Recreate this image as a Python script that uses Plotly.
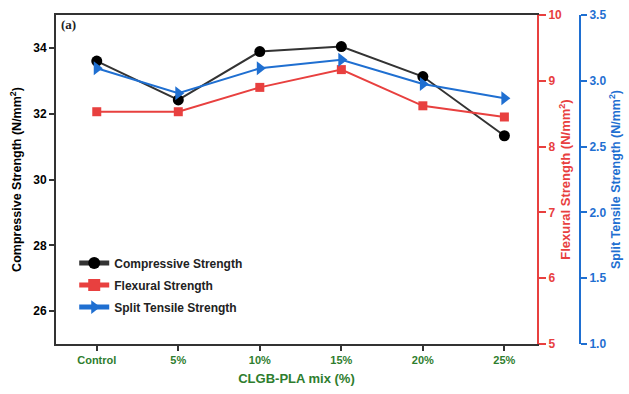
import plotly.graph_objects as go

categories = ["Control", "5%", "10%", "15%", "20%", "25%"]
compressive = [33.6, 32.42, 33.89, 34.04, 33.13, 31.33]
flexural = [8.53, 8.53, 8.90, 9.17, 8.62, 8.45]
split_tensile = [3.095, 2.905, 3.095, 3.16, 2.976, 2.867]

left_ticks = [26, 28, 30, 32, 34]
red_ticks = [5, 6, 7, 8, 9, 10]
blue_ticks = [1.0, 1.5, 2.0, 2.5, 3.0, 3.5]

FONT = "Arial, Liberation Sans, sans-serif"
BLACK = "#000000"
RED = "#e8403f"
BLUE = "#1f6fd1"
GREEN = "#2e7d2e"
xs = list(range(len(categories)))

fig = go.Figure()
fig.add_trace(go.Scatter(x=xs, y=compressive, name="Compressive Strength", mode="lines+markers",
                         legendgroup="c",
                         line=dict(color="#333333", width=2),
                         marker=dict(symbol="circle", size=11, color=BLACK),
                         yaxis="y"))
fig.add_trace(go.Scatter(x=xs, y=flexural, name="Flexural Strength", mode="lines+markers",
                         legendgroup="f",
                         line=dict(color=RED, width=2),
                         marker=dict(symbol="square", size=9, color=RED),
                         yaxis="y2"))
fig.add_trace(go.Scatter(x=xs, y=split_tensile, name="Split Tensile Strength", mode="lines+markers",
                         legendgroup="s",
                         line=dict(color=BLUE, width=2),
                         marker=dict(symbol="triangle-right", size=12, color=BLUE),
                         yaxis="y3"))

fig.update_layout(
    width=629, height=394,
    margin=dict(l=0, r=0, t=15, b=50),
    paper_bgcolor="white", plot_bgcolor="white",
    font=dict(family=FONT, size=11, color=BLACK),
    showlegend=True,
    legend=dict(x=0.118, y=0.29, xanchor="left", yanchor="top", bgcolor="rgba(0,0,0,0)",
                font=dict(family=FONT, size=12, color="#222222", weight="bold"),
                itemsizing="constant", tracegroupgap=3),
    xaxis=dict(domain=[56/629, 537/629], range=[-0.5, 5.4],
               tickmode="array", tickvals=xs, ticktext=categories,
               showline=True, linecolor="#333333", linewidth=2, mirror=True,
               ticks="outside", ticklen=5, tickwidth=2, tickcolor="#333333",
               showgrid=False, zeroline=False,
               tickfont=dict(family=FONT, size=11, color=GREEN, weight="bold"),
               title=dict(text="CLGB-PLA mix (%)", standoff=9,
                          font=dict(family=FONT, size=13, color=GREEN, weight="bold"))),
    yaxis=dict(range=[25, 35], tickvals=left_ticks,
               showline=True, linecolor="#333333", linewidth=2,
               ticks="outside", ticklen=5, tickwidth=2, tickcolor="#333333",
               showgrid=False, zeroline=False,
               tickfont=dict(family=FONT, size=12, color=BLACK, weight="bold"),
               title=dict(text="Compressive Strength (N/mm<sup>2</sup>)", standoff=9,
                          font=dict(family=FONT, size=12.5, color=BLACK, weight="bold"))),
    yaxis2=dict(range=[5, 10], tickvals=red_ticks, overlaying="y", side="right", anchor="x",
                showline=True, linecolor=RED, linewidth=2,
                ticks="outside", ticklen=7, tickwidth=2, tickcolor=RED,
                showgrid=False, zeroline=False,
                tickfont=dict(family=FONT, size=12, color=RED, weight="bold"),
                title=dict(text="Flexural Strength (N/mm<sup>2</sup>)", standoff=0,
                           font=dict(family=FONT, size=13, color=RED, weight="bold"))),
    yaxis3=dict(range=[1.0, 3.5], tickvals=blue_ticks, tickformat=".1f",
                overlaying="y", side="right", anchor="free", position=580/629,
                showline=True, linecolor=BLUE, linewidth=2,
                ticks="outside", ticklen=6, tickwidth=2, tickcolor=BLUE,
                showgrid=False, zeroline=False,
                tickfont=dict(family=FONT, size=12, color=BLUE, weight="bold"),
                title=dict(text="Split Tensile Strength (N/mm<sup>2</sup>)", standoff=5,
                           font=dict(family=FONT, size=12.5, color=BLUE, weight="bold"))),
    annotations=[dict(text="<b>(a)</b>", xref="paper", yref="paper", x=59/629, y=1.0,
                      xanchor="left", yanchor="top", showarrow=False,
                      font=dict(family="Liberation Serif, Times New Roman, serif", size=13, color="#222222"))],
)

fig.write_html("out.html")
